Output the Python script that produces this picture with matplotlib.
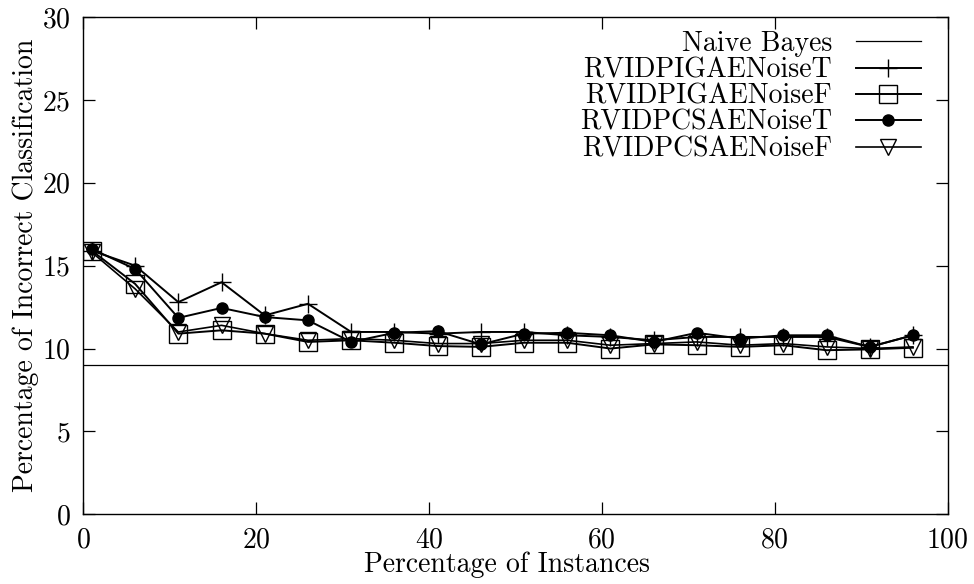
import numpy as np
import matplotlib
matplotlib.use("Agg")
import matplotlib.pyplot as plt

plt.rcParams['font.family'] = ['cmr10', 'DejaVu Serif']
plt.rcParams['mathtext.fontset'] = 'cm'
plt.rcParams['axes.formatter.use_mathtext'] = True

# data
x = [1, 6, 11, 16, 21, 26, 31, 36, 41, 46, 51, 56, 61, 66, 71, 76, 81, 86, 91, 96]
naive_bayes = 9.0
ga_t = [15.9, 15.0, 12.8, 14.0, 12.0, 12.7, 11.0, 11.0, 10.9, 11.0,
        11.0, 10.8, 10.7, 10.5, 10.7, 10.7, 10.7, 10.7, 10.1, 10.8]
ga_f = [15.9, 13.9, 10.9, 11.1, 10.9, 10.4, 10.5, 10.35, 10.15, 10.1,
        10.35, 10.35, 10.0, 10.25, 10.2, 10.1, 10.2, 9.9, 9.95, 10.05]
cs_t = [16.0, 14.8, 11.85, 12.45, 11.9, 11.7, 10.4, 10.95, 11.05, 10.25,
        10.9, 10.95, 10.8, 10.4, 10.95, 10.6, 10.8, 10.8, 10.1, 10.8]
cs_f = [15.8, 13.6, 11.0, 11.4, 10.9, 10.5, 10.6, 10.5, 10.3, 10.3,
        10.5, 10.5, 10.2, 10.3, 10.4, 10.2, 10.3, 10.1, 10.0, 10.1]

fig = plt.figure(figsize=(9.74, 5.84), dpi=100)
ax = fig.add_axes([0.0855, 0.1193, 0.9728 - 0.0855, 0.9709 - 0.1193])

ax.axhline(naive_bayes, color='black', lw=0.9, label='Naive Bayes')
ax.plot(x, ga_t, color='black', lw=1.4, marker='+', ms=13, mew=1.0,
        label='RVIDPIGAENoiseT')
ax.plot(x, ga_f, color='black', lw=1.4, marker='s', ms=13.5, mew=1.0,
        fillstyle='none', label='RVIDPIGAENoiseF')
ax.plot(x, cs_t, color='black', lw=1.4, marker='o', ms=8,
        label='RVIDPCSAENoiseT')
ax.plot(x, cs_f, color='black', lw=1.2, marker='v', ms=11, mew=1.0,
        fillstyle='none', label='RVIDPCSAENoiseF')

ax.set_xlim(0, 100)
ax.set_ylim(0, 30)
ax.set_xticks(np.arange(0, 101, 20))
ax.set_yticks(np.arange(0, 31, 5))
ax.tick_params(direction='in', length=8.5, width=0.9, top=True, right=True,
               labelsize=20)
ax.tick_params(axis='x', pad=9)
ax.tick_params(axis='y', pad=9)
for s in ax.spines.values():
    s.set_linewidth(1.0)

ax.set_xlabel('Percentage of Instances', fontsize=20, labelpad=0)
ax.xaxis.set_label_coords(0.49, -0.075)
ax.set_ylabel('Percentage of Incorrect Classification', fontsize=20, labelpad=2)

ax.legend(loc='upper right', bbox_to_anchor=(0.9884, 1.006), frameon=False,
          markerfirst=False, fontsize=20, handlelength=2.35,
          handletextpad=0.85, labelspacing=0.0, borderaxespad=0.3,
          borderpad=0.3)

fig.savefig('out.png', dpi=100)
